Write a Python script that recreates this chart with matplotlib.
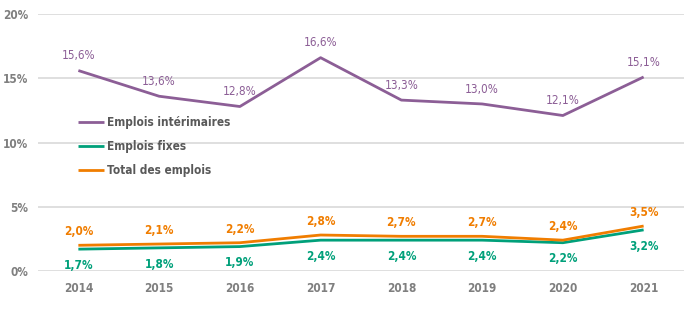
import matplotlib
matplotlib.use("Agg")
import matplotlib.pyplot as plt

plt.rcParams['font.family'] = ['DejaVu Sans']
plt.rcParams['font.stretch'] = 'condensed'

years = ['2014', '2015', '2016', '2017', '2018', '2019', '2020', '2021']
interim = [15.6, 13.6, 12.8, 16.6, 13.3, 13.0, 12.1, 15.1]
fixes = [1.7, 1.8, 1.9, 2.4, 2.4, 2.4, 2.2, 3.2]
total = [2.0, 2.1, 2.2, 2.8, 2.7, 2.7, 2.4, 3.5]
yticks = [0, 5, 10, 15, 20]

c_purple = '#8c5e96'
c_green = '#00a07a'
c_orange = '#f07d00'
c_gray = '#7f7f7f'

fig = plt.figure(figsize=(7, 3.29), dpi=100)
ax = fig.add_axes([38/700, 1-271/329, 646/700, 257/329])
x = list(range(len(years)))

ax.plot(x, interim, color=c_purple, lw=2.0, label='Emplois intérimaires', solid_capstyle='butt')
ax.plot(x, fixes, color=c_green, lw=2.0, label='Emplois fixes', solid_capstyle='butt')
ax.plot(x, total, color=c_orange, lw=2.0, label='Total des emplois', solid_capstyle='butt')

def fmt(v):
    return f"{v:.1f}".replace('.', ',') + '%'

for xi, v in zip(x, interim):
    ax.annotate(fmt(v), (xi, v), xytext=(0, 6), textcoords='offset points',
                ha='center', va='bottom', color=c_purple, fontsize=8.5)
for xi, v in zip(x, total):
    ax.annotate(fmt(v), (xi, v), xytext=(0, 5), textcoords='offset points',
                ha='center', va='bottom', color=c_orange, fontsize=8.5, fontweight='bold')
for xi, v in zip(x, fixes):
    ax.annotate(fmt(v), (xi, v), xytext=(0, -7), textcoords='offset points',
                ha='center', va='top', color=c_green, fontsize=8.5, fontweight='bold')

ax.set_xlim(-0.5, 7.5)
ax.set_ylim(0, 20)
ax.set_yticks(yticks)
ax.set_yticklabels([f"{t}%" for t in yticks])
ax.set_xticks(x)
ax.set_xticklabels(years)
for lab in ax.get_xticklabels() + ax.get_yticklabels():
    lab.set_color(c_gray)
    lab.set_fontweight('bold')
    lab.set_fontsize(8.5)
ax.tick_params(axis='x', length=0, pad=8)
ax.tick_params(axis='y', length=0, pad=7)
ax.grid(axis='y', color='#d9d9d9', lw=1.2)
ax.set_axisbelow(True)
for s in ax.spines.values():
    s.set_visible(False)

leg = ax.legend(loc='upper left', bbox_to_anchor=(0.045, 0.645), frameon=False,
                handlelength=2.2, handletextpad=0.3, labelspacing=0.95,
                prop={'size': 8.5, 'weight': 'bold', 'stretch': 'condensed'})
for t in leg.get_texts():
    t.set_color('#595959')

fig.savefig('out.png', dpi=100)
